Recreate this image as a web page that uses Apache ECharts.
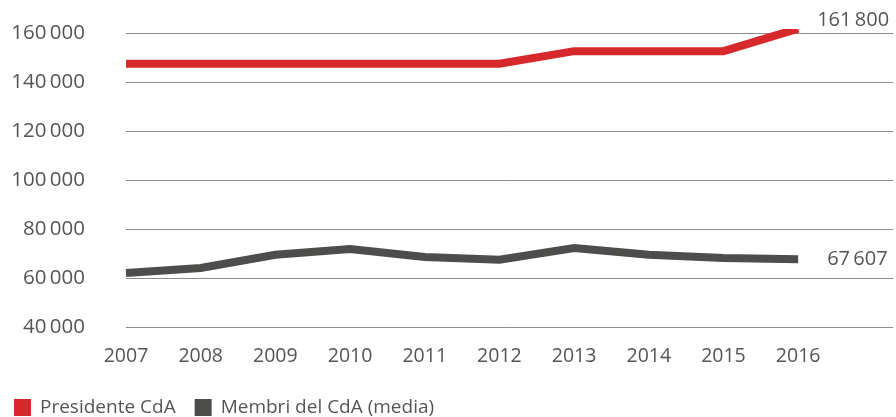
<!DOCTYPE html>
<html>
<head>
<meta charset="utf-8">
<script src="https://cdn.jsdelivr.net/npm/echarts@6/dist/echarts.min.js"></script>
<style>
  html, body { margin: 0; padding: 0; background: #fff; }
  #main { width: 896px; height: 417px; }
</style>
</head>
<body>
<div id="main"></div>
<script>
  // dati
  const years = [2007, 2008, 2009, 2010, 2011, 2012, 2013, 2014, 2015, 2016];
  const presidente = [147500, 147500, 147500, 147500, 147500, 147500, 152600, 152600, 152600, 161800];
  const membri = [62000, 64100, 69500, 71800, 68600, 67500, 72200, 69500, 68200, 67607];
  const yTicks = [40000, 60000, 80000, 100000, 120000, 140000, 160000];

  const fmt = v => String(v).replace(/\B(?=(\d{3})+(?!\d))/g, '\u2009');
  const font = '"Open Sans", "Noto Sans", sans-serif';

  let chart = echarts.init(document.getElementById('main'));
  chart.setOption({
    animation: false,
    grid: { left: 126, right: 3, top: 33, height: 294 },
    legend: {
      left: 9,
      top: 393,
      icon: 'rect',
      itemWidth: 17,
      itemHeight: 17,
      itemGap: 19,
      textStyle: { color: '#555', fontSize: 19, fontFamily: font, padding: [0, 0, 0, 4] },
      data: ['Presidente CdA', 'Membri del CdA (media)']
    },
    xAxis: {
      type: 'value',
      min: years[0],
      max: 2017.27,
      interval: 1,
      splitLine: { show: false },
      axisLine: { show: false },
      axisTick: { show: false },
      axisLabel: {
        color: '#555',
        fontSize: 19.5,
        fontFamily: font,
        margin: 19,
        showMaxLabel: false,
        formatter: v => (v <= years[years.length - 1] ? String(v) : '')
      }
    },
    yAxis: {
      type: 'value',
      min: yTicks[0],
      max: yTicks[yTicks.length - 1],
      interval: 20000,
      axisLine: { show: false },
      axisTick: { show: false },
      splitLine: { lineStyle: { color: '#8c8c8c', width: 1 } },
      axisLabel: {
        color: '#555',
        fontSize: 20.5,
        fontFamily: font,
        margin: 41,
        formatter: fmt
      }
    },
    series: [
      {
        name: 'Presidente CdA',
        type: 'line',
        data: years.map((y, i) => [y, presidente[i]]),
        symbol: 'none',
        color: '#d7282b',
        lineStyle: { width: 8, color: '#d7282b', cap: 'butt', join: 'miter' },
        endLabel: {
          show: true,
          distance: 19,
          offset: [0, -8],
          color: '#555',
          fontSize: 20,
          fontFamily: font,
          formatter: p => fmt(p.value[1])
        }
      },
      {
        name: 'Membri del CdA (media)',
        type: 'line',
        data: years.map((y, i) => [y, membri[i]]),
        symbol: 'none',
        color: '#4d4d4b',
        lineStyle: { width: 8, color: '#4d4d4b', cap: 'butt', join: 'miter' },
        endLabel: {
          show: true,
          distance: 29,
          offset: [0, 0],
          color: '#555',
          fontSize: 20,
          fontFamily: font,
          formatter: p => fmt(p.value[1])
        }
      }
    ]
  });
</script>
</body>
</html>
